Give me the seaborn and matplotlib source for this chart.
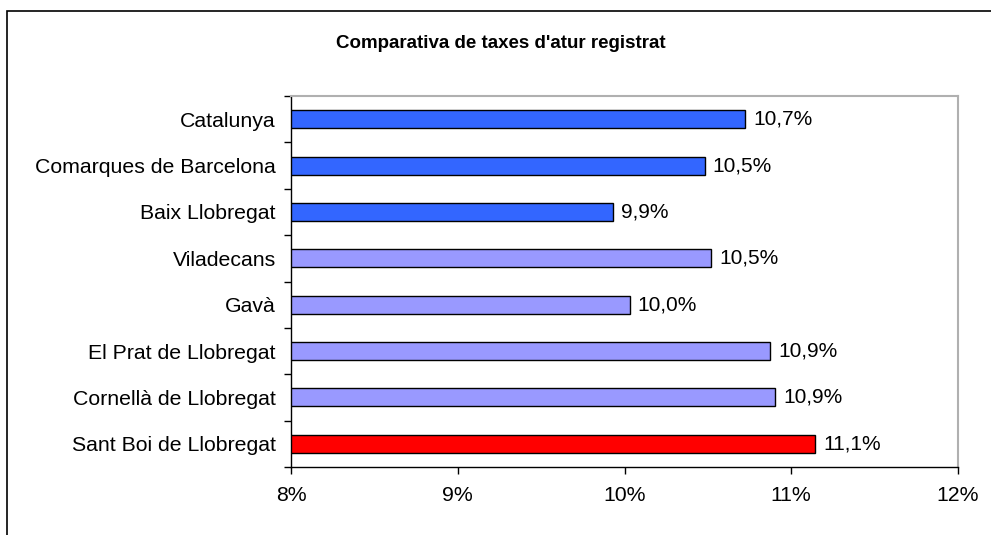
import numpy as np
import matplotlib
matplotlib.use('Agg')
import matplotlib.pyplot as plt
import seaborn as sns
from matplotlib.patches import Rectangle

# Data
categories = ['Catalunya', 'Comarques de Barcelona', 'Baix Llobregat', 'Viladecans',
              'Gavà', 'El Prat de Llobregat', 'Cornellà de Llobregat', 'Sant Boi de Llobregat']
taxes = [10.72, 10.48, 9.93, 10.52, 10.03, 10.87, 10.90, 11.14]
colors = ['#3366FF', '#3366FF', '#3366FF', '#9999FF', '#9999FF', '#9999FF', '#9999FF', '#FF0000']
x_ticks = [8, 9, 10, 11, 12]

sns.set_style('white')
plt.rcParams['font.family'] = ['Liberation Sans', 'DejaVu Sans']
plt.rcParams['text.color'] = 'black'
plt.rcParams['xtick.color'] = 'black'
plt.rcParams['ytick.color'] = 'black'

fig = plt.figure(figsize=(9.91, 5.35), dpi=100)
ax = fig.add_axes([291 / 991, 1 - 467 / 535, (958 - 291) / 991, (467 - 96) / 535])

sns.barplot(x=taxes, y=categories, hue=categories, palette=colors, legend=False,
            width=0.39, edgecolor='black', linewidth=1, saturation=1, ax=ax)

ax.set_xlim(8, 12)
ax.set_ylim(len(categories) - 0.5, -0.5)
ax.set_xticks(x_ticks)
ax.set_xticklabels([f'{t}%' for t in x_ticks], fontsize=15.3)
ax.set_yticks(range(len(categories)))
ax.set_yticklabels(categories, fontsize=15.3)
ax.set_yticks(np.arange(-0.5, len(categories), 1), minor=True)
ax.tick_params(axis='y', which='major', length=0, pad=11)
ax.tick_params(axis='y', which='minor', length=5, width=1, color='black', direction='out', left=True)
ax.tick_params(axis='x', length=5, width=1, color='black', direction='out', bottom=True, pad=9)
ax.set_xlabel('')
ax.set_ylabel('')

for side in ['left', 'bottom']:
    ax.spines[side].set_color('black')
    ax.spines[side].set_linewidth(1)
for side in ['top', 'right']:
    ax.spines[side].set_color('#B0B0B0')
    ax.spines[side].set_linewidth(1.5)

# value labels with decimal comma
for cont in ax.containers:
    labels = [f'{v.get_width():.1f}%'.replace('.', ',') for v in cont]
    ax.bar_label(cont, labels=labels, padding=6, fontsize=15, color='black')

fig.text(501 / 991, 1 - 43 / 535, "Comparativa de taxes d'atur registrat",
         ha='center', va='center', fontsize=13.5, fontweight='bold', color='black')

# outer chart frame (cut off at right and bottom)
fig.patches.append(Rectangle((7 / 991, -0.2), 1.5, 1.2 - 11 / 535, transform=fig.transFigure,
                             fill=False, edgecolor='black', linewidth=1.2))

fig.savefig('out.png', dpi=100)
